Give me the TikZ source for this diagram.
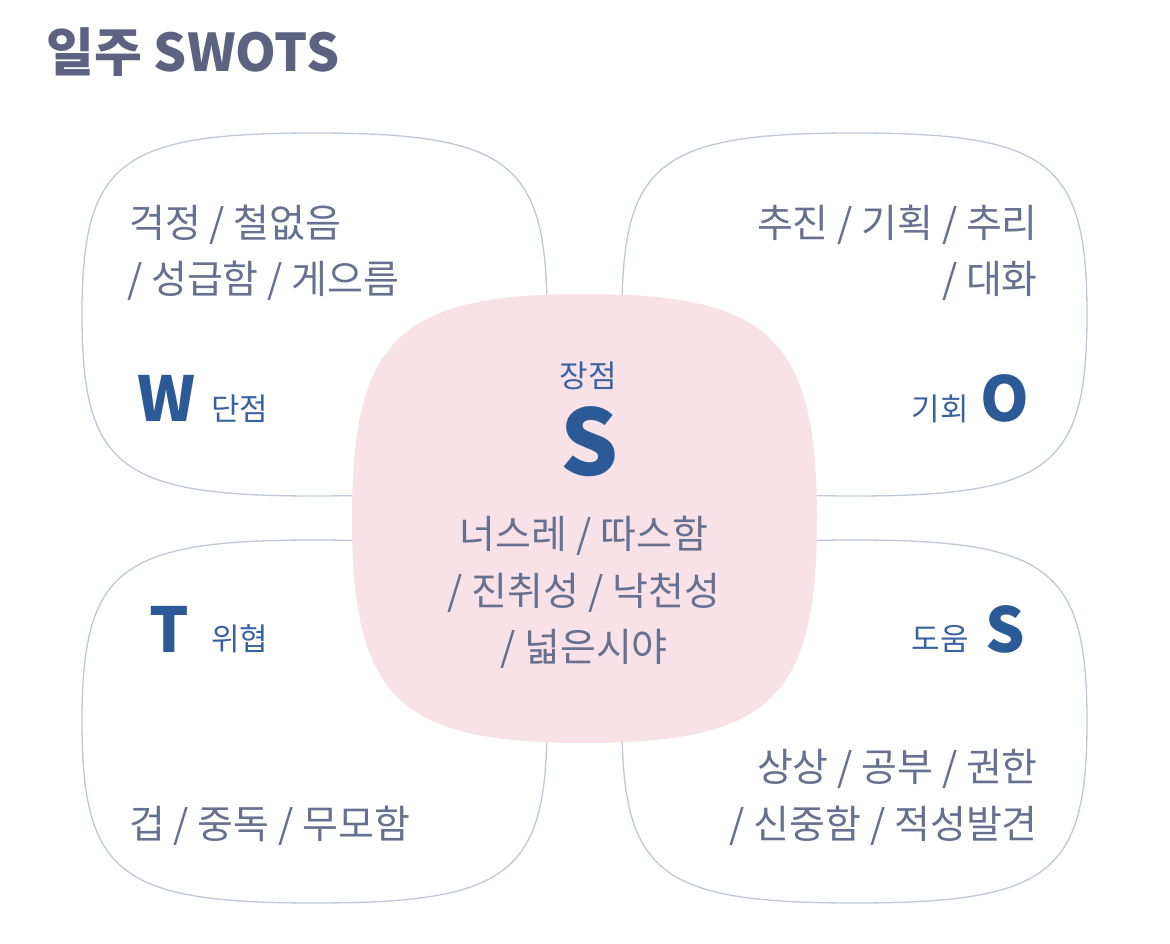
\documentclass[tikz,border=0pt]{standalone}
\usepackage{fontspec}
\setmainfont{Noto Sans CJK KR}
\definecolor{txt}{HTML}{66708F}
\definecolor{ttl}{HTML}{5C6280}
\definecolor{blu}{HTML}{2C5A96}
\definecolor{lbl}{HTML}{3B62A0}
\definecolor{edgec}{HTML}{BEC8D6}
\definecolor{pinkc}{HTML}{F8E1E7}
\tikzset{
  pics/squircle/.style n args={3}{code={
    \path[pic actions] (0,-#2) .. controls (#3*#1,-#2) and (#1,-#3*#2) .. (#1,0)
      .. controls (#1,#3*#2) and (#3*#1,#2) .. (0,#2)
      .. controls (-#3*#1,#2) and (-#1,#3*#2) .. (-#1,0)
      .. controls (-#1,-#3*#2) and (-#3*#1,-#2) .. cycle;}},
  box/.style={draw=edgec, fill=white, line width=1.3pt},
  core/.style={fill=pinkc},
  body/.style={text=txt, font=\fontsize{39}{42}\selectfont, inner sep=0pt},
  big/.style={text=blu, font=\fontsize{62}{62}\selectfont\bfseries, inner sep=0pt},
  bigger/.style={text=blu, font=\fontsize{91}{91}\selectfont\bfseries, inner sep=0pt},
  lab/.style={text=lbl, font=\fontsize{31}{31}\selectfont, inner sep=0pt},
}
\begin{document}
\begin{tikzpicture}[x=1pt,y=-1pt]
\useasboundingbox[fill=white] (0,0) rectangle (1170,944);
\node[anchor=base west, text=ttl, font=\fontsize{52}{52}\selectfont\bfseries, inner sep=0pt] (title) at (46,72) {일주 SWOTS};
% quadrant boxes
\pic[box] at (314.5,314.5) {squircle={232.5}{181.5}{0.84}};
\pic[box] at (854.5,314.5) {squircle={232.5}{181.5}{0.84}};
\pic[box] at (314.5,721.5) {squircle={232.5}{181.5}{0.84}};
\pic[box] at (854.5,721.5) {squircle={232.5}{181.5}{0.84}};
% centre
\pic[core] at (584.5,518.5) {squircle={232.5}{224.5}{0.80}};
% W
\node[body, anchor=base west] (w1) at (129,238) {걱정 / 철없음};
\node[body, anchor=base west] (w2) at (127,293) {/ 성급함 / 게으름};
\node[big, anchor=base west] (wl) at (137,421) {W};
\node[lab, anchor=base west] (wt) at (211,420) {단점};
% O
\node[body, anchor=base east] (o1) at (1038,238) {추진 / 기획 / 추리};
\node[body, anchor=base east] (o2) at (1038,293) {/ 대화};
\node[big, anchor=base east] (ol) at (1029,421) {O};
\node[lab, anchor=base east] (ot) at (969,420) {기회};
% T
\node[big, anchor=base west] (tl) at (149,652) {T};
\node[lab, anchor=base west] (tt) at (211,650) {위협};
\node[body, anchor=base west] (t1) at (129,838) {겁 / 중독 / 무모함};
% S (help)
\node[big, anchor=base east] (hl) at (1025,652) {S};
\node[lab, anchor=base east] (ht) at (969,650) {도움};
\node[body, anchor=base east] (h1) at (1038,781) {상상 / 공부 / 권한};
\node[body, anchor=base east] (h2) at (1038,838) {/ 신중함 / 적성발견};
% centre S
\node[lab, anchor=base] (st) at (588,387) {장점};
\node[bigger, anchor=base] (sl) at (590,475) {S};
\node[body, anchor=base] (s1) at (584,548) {너스레 / 따스함};
\node[body, anchor=base] (s2) at (584,605) {/ 진취성 / 낙천성};
\node[body, anchor=base] (s3) at (584,661) {/ 넓은시야};
\end{tikzpicture}
\end{document}
